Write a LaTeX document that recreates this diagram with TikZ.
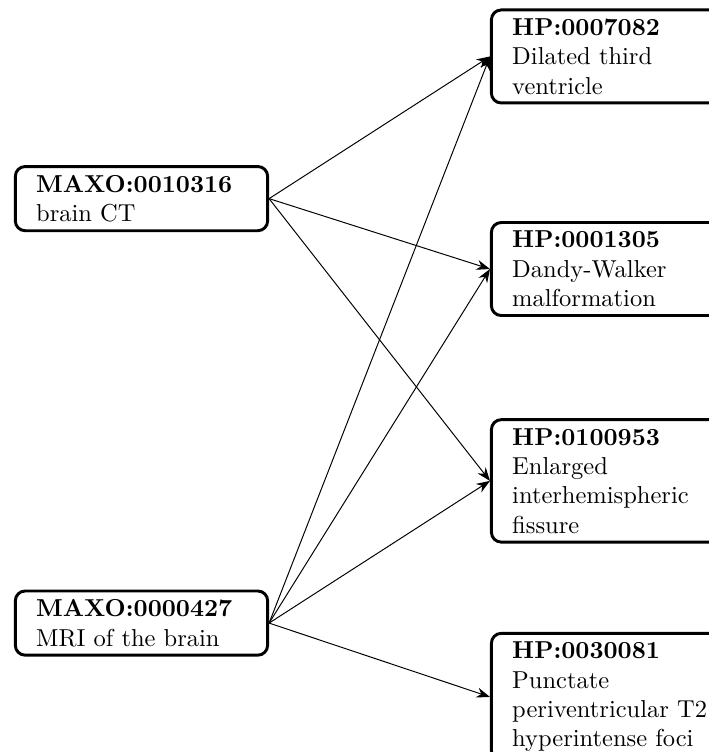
\documentclass[tikz,border=0pt]{standalone}
\usetikzlibrary{arrows.meta}
\tikzset{
  term/.style={draw, very thick, rounded corners, align=flush left, text width=86pt,
    inner xsep=8.5pt, inner ysep=3.5pt},
}
\begin{document}
\begin{tikzpicture}
    \useasboundingbox (0, 0) rectangle (10.16, -10.79);
    \node [term] (ct) at (2.03, -2.85) {\textbf{MAXO:0010316}\\brain CT};
    \node [term] (mri) at (2.03, -8.94) {\textbf{MAXO:0000427}\\MRI of the brain};
    \node [term, anchor=west] (dtv) at (7.03, -0.81) {\textbf{HP:0007082}\\Dilated third ventricle};
    \node [term, anchor=west] (dw) at (7.03, -3.86) {\textbf{HP:0001305}\\Dandy-Walker malformation};
    \node [term, anchor=west] (eif) at (7.03, -6.90) {\textbf{HP:0100953}\\Enlarged interhemispheric fissure};
    \node [term, anchor=west] (ptf) at (7.03, -10.0) {\textbf{HP:0030081}\\Punctate periventricular T2 hyperintense foci};

    \draw [-{Stealth[length=5.5pt]}] (ct.east) -- (dtv.west);
    \draw [-{Stealth[length=5.5pt]}] (ct.east) -- (dw.west);
    \draw [-{Stealth[length=5.5pt]}] (ct.east) -- (eif.west);
    \draw [-{Stealth[length=5.5pt]}] (mri.east) -- (dtv.west);
    \draw [-{Stealth[length=5.5pt]}] (mri.east) -- (dw.west);
    \draw [-{Stealth[length=5.5pt]}] (mri.east) -- (eif.west);
    \draw [-{Stealth[length=5.5pt]}] (mri.east) -- (ptf.west);
  \end{tikzpicture}
\end{document}
